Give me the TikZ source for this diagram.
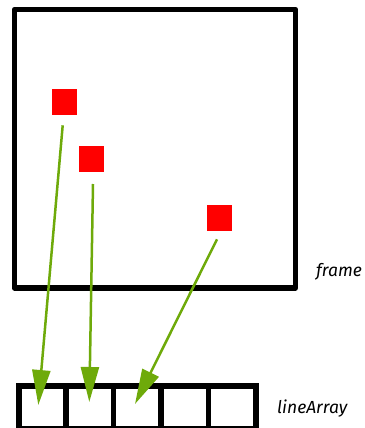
\documentclass[tikz,border=0pt]{standalone}
\usepackage{fontspec}
\setmainfont{Fira Sans}
\usetikzlibrary{arrows.meta}
\definecolor{arrowgreen}{RGB}{110,170,10}
\definecolor{boxred}{RGB}{255,0,0}
\begin{document}
\begin{tikzpicture}[x=1pt,y=-1pt,
  blackline/.style={line width=5.5pt,line join=round,line cap=round},
  redsq/.style={fill=boxred,draw=none,minimum width=25pt,minimum height=26pt,inner sep=0pt},
  cellbox/.style={draw,line width=5.5pt,minimum width=47.5pt,minimum height=43pt,inner sep=0pt,anchor=north west},
  ptr/.style={draw=arrowgreen,line width=2.5pt,-{Triangle[length=35pt,width=18pt]}},
  lbl/.style={font=\itshape\fontsize{17.5}{20}\selectfont,anchor=west,inner sep=0pt}]
\useasboundingbox (0,0) rectangle (364,428);
% frame
\draw[blackline] (14.5,9.5) rectangle (295.5,288);
\node[lbl] (framelbl) at (316,272) {frame};
% red squares
\node[redsq] (s1) at (64.8,102) {};
\node[redsq] (s2) at (91.5,159.3) {};
\node[redsq] (s3) at (219.5,218) {};
% array cells
\foreach \i in {0,...,4}{
  \node[cellbox] (c\i) at ({16+47.4*\i},383) {};
}
\node[lbl] (arrlbl) at (277,409) {lineArray};
% pointers
\coordinate (e1) at (62.7,125.3);
\coordinate (e2) at (93,184);
\coordinate (e3) at (217,239.3);
\coordinate (t1) at (38.3,405);
\coordinate (t2) at (89.3,402);
\coordinate (t3) at (135,404);
\draw[ptr] (e1) -- (t1);
\draw[ptr] (e2) -- (t2);
\draw[ptr] (e3) -- (t3);
\end{tikzpicture}
\end{document}
